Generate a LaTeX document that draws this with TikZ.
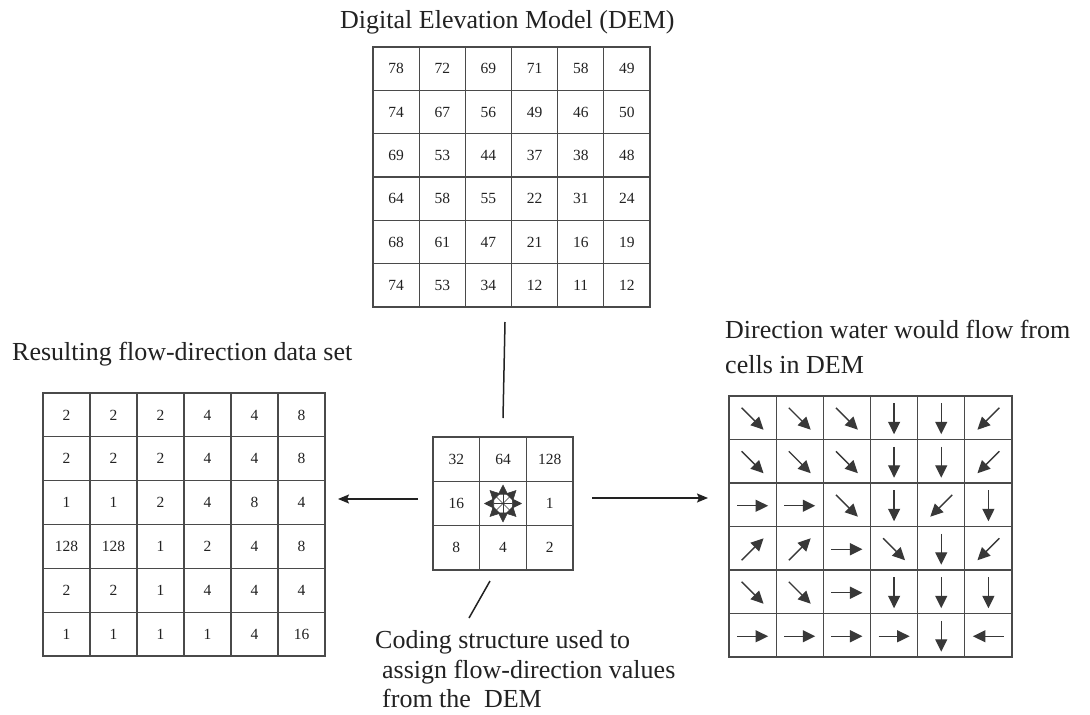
\documentclass[tikz,border=0pt]{standalone}
\usepackage{fontspec}
\setmainfont{Liberation Serif}
\usetikzlibrary{arrows.meta,calc,fit}
\definecolor{ink}{HTML}{222222}
\definecolor{gridc}{HTML}{4A4A4A}
\definecolor{arr}{HTML}{383838}
\begin{document}
\begin{tikzpicture}[x=1pt,y=-1pt,
  grid/.style={draw=gridc, line width=1.1pt, inner sep=0pt, outer sep=0pt},
  gline/.style={draw=gridc, line width=1.1pt},
  num/.style={font=\fontsize{15.5}{15.5}\selectfont, text=ink, inner sep=0pt},
  title/.style={font=\fontsize{26}{30}\selectfont, text=ink, anchor=base west, inner sep=0pt},
  flow/.style={draw=arr, line width=1.4pt, -{Triangle[length=12.5pt,width=12pt]}},
  starr/.style={draw=arr, line width=0.6pt, -{Triangle[length=10pt,width=10pt]}},
  conn/.style={draw=ink, line width=1.5pt},
  connarrow/.style={conn, -{Stealth[length=11pt,width=9pt,inset=2pt]}},
  ]
\useasboundingbox[fill=white] (0,0) rectangle (1090,715);

% ---------- titles ----------
\node[title] (demtitle) at (340,28) {Digital Elevation Model (DEM)};
\node[title] (restitle) at (12,360) {Resulting flow-direction data set};
\node[title] (dirtitle1) at (725,338) {Direction water would flow from};
\node[title] (dirtitle2) at (725,373) {cells in DEM};
\node[title] (cap1) at (375,648) {Coding structure used to};
\node[title] (cap2) at (382,678) {assign flow-direction values};
\node[title] (cap3) at (382,707) {from the\hspace{0.25em} DEM};

% ---------- DEM grid ----------
\coordinate (dem-nw) at (373,47);
\coordinate (dem-se) at (650,307);
\node[grid, fit=(dem-nw)(dem-se)] (dem) {};
\foreach \i in {1,...,5}{
  \pgfmathsetmacro\xx{373+\i*277/6}
  \pgfmathsetmacro\yy{47+\i*260/6}
  \draw[gline] (\xx,47) -- (\xx,307);
  \draw[gline] (373,\yy) -- (650,\yy);
}
\foreach \row [count=\r] in {{78,72,69,71,58,49},{74,67,56,49,46,50},{69,53,44,37,38,48},{64,58,55,22,31,24},{68,61,47,21,16,19},{74,53,34,12,11,12}}{
  \foreach \v [count=\c] in \row {
    \node[num] (dem-\r-\c) at ({373+(\c-0.5)*277/6},{47+(\r-0.5)*260/6}) {\v};
  }
}

% ---------- resulting grid ----------
\coordinate (res-nw) at (43,393);
\coordinate (res-se) at (325,656);
\node[grid, fit=(res-nw)(res-se)] (res) {};
\foreach \i in {1,...,5}{
  \pgfmathsetmacro\xx{43+\i*282/6}
  \pgfmathsetmacro\yy{393+\i*263/6}
  \draw[gline] (\xx,393) -- (\xx,656);
  \draw[gline] (43,\yy) -- (325,\yy);
}
\foreach \row [count=\r] in {{2,2,2,4,4,8},{2,2,2,4,4,8},{1,1,2,4,8,4},{128,128,1,2,4,8},{2,2,1,4,4,4},{1,1,1,1,4,16}}{
  \foreach \v [count=\c] in \row {
    \node[num] (res-\r-\c) at ({43+(\c-0.5)*282/6},{393+(\r-0.5)*263/6}) {\v};
  }
}

% ---------- direction grid ----------
\coordinate (dir-nw) at (729,396);
\coordinate (dir-se) at (1012,657);
\node[grid, fit=(dir-nw)(dir-se)] (dir) {};
\foreach \i in {1,...,5}{
  \pgfmathsetmacro\xx{729+\i*283/6}
  \pgfmathsetmacro\yy{396+\i*261/6}
  \draw[gline] (\xx,396) -- (\xx,657);
  \draw[gline] (729,\yy) -- (1012,\yy);
}
\foreach \row [count=\r] in {{1/1,1/1,1/1,0/1,0/1,-1/1},{1/1,1/1,1/1,0/1,0/1,-1/1},{1/0,1/0,1/1,0/1,-1/1,0/1},{1/-1,1/-1,1/0,1/1,0/1,-1/1},{1/1,1/1,1/0,0/1,0/1,0/1},{1/0,1/0,1/0,1/0,0/1,-1/0}}{
  \foreach \dx/\dy [count=\c] in \row {
    \pgfmathsetmacro\nn{15.5/sqrt((\dx)*(\dx)+(\dy)*(\dy))}
    \pgfmathsetmacro\ux{\nn*(\dx)}
    \pgfmathsetmacro\uy{\nn*(\dy)}
    \coordinate (dir-\r-\c) at ({729+(\c-0.5)*283/6},{396+(\r-0.5)*261/6+1});
    \draw[flow] ($(dir-\r-\c)-(\ux,\uy)$) -- ($(dir-\r-\c)+(\ux,\uy)$);
  }
}

% ---------- coding structure ----------
\coordinate (code-nw) at (433,437);
\coordinate (code-se) at (573,570);
\node[grid, fit=(code-nw)(code-se)] (code) {};
\foreach \i in {1,2}{
  \pgfmathsetmacro\xx{433+\i*140/3}
  \pgfmathsetmacro\yy{437+\i*133/3}
  \draw[gline] (\xx,437) -- (\xx,570);
  \draw[gline] (433,\yy) -- (573,\yy);
}
\foreach \row [count=\r] in {{32,64,128},{16,,1},{8,4,2}}{
  \foreach \v [count=\c] in \row {
    \node[num] (code-\r-\c) at ({433+(\c-0.5)*140/3},{437+(\r-0.5)*133/3}) {\v};
  }
}
\foreach \a in {0,45,...,315}{
  \draw[starr] (code-2-2.center) -- ++(\a:19);
}

% ---------- connectors ----------
\draw[conn] ([xshift=-6.5pt,yshift=-15pt]dem.south) -- ([yshift=19pt]code.north);
\draw[connarrow] ([xshift=-15pt,yshift=4.5pt]code.west) -- ([xshift=13pt,yshift=4.5pt]code.west -| res.east);
\draw[connarrow] ([xshift=19pt,yshift=5.5pt]code.east) -- ([xshift=-21pt,yshift=5.5pt]code.east -| dir.west);
\draw[conn] ([xshift=-13pt,yshift=-11pt]code.south) -- ([xshift=-34pt,yshift=-48pt]code.south);
\end{tikzpicture}
\end{document}
